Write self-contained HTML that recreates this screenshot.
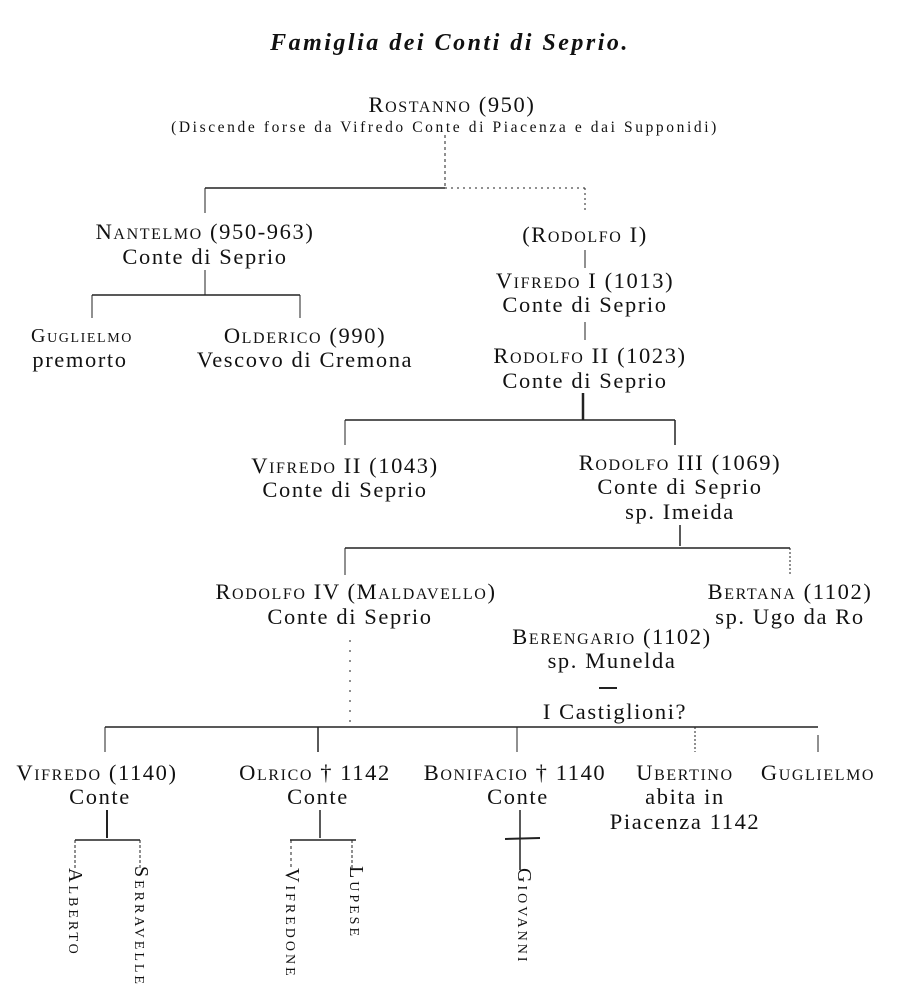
<!DOCTYPE html>
<html><head><meta charset="utf-8"><style>
body{margin:0;background:#fff;}
#c{position:relative;width:900px;height:1001px;overflow:hidden;font-family:"Liberation Serif",serif;color:#111;}
.t{position:absolute;white-space:nowrap;transform:translateX(-50%);font-size:22.5px;line-height:22px;letter-spacing:1.6px;}
.sc{font-variant:small-caps;}
.v{position:absolute;writing-mode:vertical-rl;font-variant:small-caps;font-size:20px;letter-spacing:3px;}
svg{position:absolute;left:0;top:0;}
</style></head><body><div id="c">
<svg width="900" height="1001" stroke="#222" stroke-width="1.5" fill="none">
<line x1="445" y1="135" x2="445" y2="186" stroke-dasharray="3,3" stroke-width="1"/>
<line x1="205" y1="188" x2="445" y2="188"/>
<line x1="445" y1="188" x2="585" y2="188" stroke-dasharray="2,4" stroke-width="1"/>
<line x1="205" y1="188" x2="205" y2="213" stroke-width="1"/>
<line x1="585" y1="188" x2="585" y2="213" stroke-dasharray="2,3" stroke-width="1"/>
<line x1="205" y1="270" x2="205" y2="295" stroke-width="1"/>
<line x1="92" y1="295" x2="300" y2="295"/>
<line x1="92" y1="295" x2="92" y2="318" stroke-width="1"/>
<line x1="300" y1="295" x2="300" y2="318" stroke-width="1"/>
<line x1="585" y1="250" x2="585" y2="268" stroke-width="1"/>
<line x1="585" y1="322" x2="585" y2="340" stroke-width="1"/>
<line x1="583" y1="393" x2="583" y2="420" stroke-width="2.5"/>
<line x1="345" y1="420" x2="675" y2="420"/>
<line x1="345" y1="420" x2="345" y2="445" stroke-width="1"/>
<line x1="675" y1="420" x2="675" y2="445" stroke-width="1.5"/>
<line x1="680" y1="525" x2="680" y2="546" stroke-width="1.5"/>
<line x1="345" y1="548" x2="790" y2="548"/>
<line x1="345" y1="548" x2="345" y2="575" stroke-width="1"/>
<line x1="790" y1="548" x2="790" y2="575" stroke-dasharray="2,2" stroke-width="1"/>
<line x1="599" y1="688" x2="617" y2="688" stroke-width="2"/>
<line x1="350" y1="640" x2="350" y2="724" stroke-dasharray="2,8" stroke-width="1"/>
<line x1="105" y1="727" x2="818" y2="727"/>
<line x1="105" y1="727" x2="105" y2="752" stroke-width="1"/>
<line x1="318" y1="727" x2="318" y2="752" stroke-width="1.5"/>
<line x1="517" y1="727" x2="517" y2="752" stroke-width="1"/>
<line x1="695" y1="727" x2="695" y2="752" stroke-dasharray="2,2" stroke-width="1"/>
<line x1="818" y1="735" x2="818" y2="752" stroke-width="1"/>
<line x1="107" y1="810" x2="107" y2="838" stroke-width="2"/>
<line x1="75" y1="840" x2="140" y2="840"/>
<line x1="75" y1="840" x2="75" y2="870" stroke-dasharray="3,2" stroke-width="1"/>
<line x1="140" y1="840" x2="140" y2="870" stroke-dasharray="3,2" stroke-width="1"/>
<line x1="320" y1="810" x2="320" y2="838" stroke-width="1.5"/>
<line x1="290" y1="840" x2="356" y2="840"/>
<line x1="291" y1="840" x2="291" y2="870" stroke-dasharray="3,3" stroke-width="1"/>
<line x1="352" y1="840" x2="352" y2="870" stroke-dasharray="3,2" stroke-width="1"/>
<line x1="520" y1="810" x2="520" y2="870" stroke-width="1.5"/>
<line x1="505" y1="839" x2="540" y2="838" stroke-width="2"/>
</svg>
<div class="t" style="left:450px;top:32px;font-weight:bold;font-style:italic;font-size:24px;letter-spacing:2.5px;">Famiglia dei Conti di Seprio.</div>
<div class="t sc" style="left:452px;top:94px;">Rostanno (950)</div>
<div class="t" style="left:445px;top:117px;font-size:15.5px;letter-spacing:2.6px;">(Discende forse da Vifredo Conte di Piacenza e dai Supponidi)</div>
<div class="t sc" style="left:205px;top:221px;">Nantelmo (950-963)</div>
<div class="t" style="left:205px;top:246px;">Conte di Seprio</div>
<div class="t sc" style="left:82px;top:325px;font-size:20px;">Guglielmo</div>
<div class="t" style="left:80px;top:349px;">premorto</div>
<div class="t sc" style="left:305px;top:325px;">Olderico (990)</div>
<div class="t" style="left:305px;top:349px;">Vescovo di Cremona</div>
<div class="t sc" style="left:585px;top:224px;">(Rodolfo I)</div>
<div class="t sc" style="left:585px;top:270px;">Vifredo I (1013)</div>
<div class="t" style="left:585px;top:294px;">Conte di Seprio</div>
<div class="t sc" style="left:590px;top:345px;">Rodolfo II (1023)</div>
<div class="t" style="left:585px;top:370px;">Conte di Seprio</div>
<div class="t sc" style="left:345px;top:455px;">Vifredo II (1043)</div>
<div class="t" style="left:345px;top:479px;">Conte di Seprio</div>
<div class="t sc" style="left:680px;top:452px;">Rodolfo III (1069)</div>
<div class="t" style="left:680px;top:476px;">Conte di Seprio</div>
<div class="t" style="left:680px;top:501px;">sp. Imeida</div>
<div class="t sc" style="left:356px;top:581px;">Rodolfo IV (Maldavello)</div>
<div class="t" style="left:350px;top:606px;">Conte di Seprio</div>
<div class="t sc" style="left:790px;top:581px;">Bertana (1102)</div>
<div class="t" style="left:790px;top:606px;">sp. Ugo da Ro</div>
<div class="t sc" style="left:612px;top:626px;">Berengario (1102)</div>
<div class="t" style="left:612px;top:650px;">sp. Munelda</div>
<div class="t" style="left:615px;top:701px;">I Castiglioni?</div>
<div class="t sc" style="left:97px;top:762px;">Vifredo (1140)</div>
<div class="t" style="left:100px;top:786px;">Conte</div>
<div class="t sc" style="left:315px;top:762px;">Olrico † 1142</div>
<div class="t" style="left:318px;top:786px;">Conte</div>
<div class="t sc" style="left:515px;top:762px;">Bonifacio † 1140</div>
<div class="t" style="left:518px;top:786px;">Conte</div>
<div class="t sc" style="left:685px;top:762px;">Ubertino</div>
<div class="t" style="left:685px;top:786px;">abita in</div>
<div class="t" style="left:685px;top:811px;">Piacenza 1142</div>
<div class="t sc" style="left:818px;top:762px;">Guglielmo</div>
<div class="v" style="left:63px;top:868px;">Alberto</div>
<div class="v" style="left:129px;top:866px;">Serravelle</div>
<div class="v" style="left:280px;top:868px;">Vifredone</div>
<div class="v" style="left:344px;top:866px;">Lupese</div>
<div class="v" style="left:512px;top:868px;">Giovanni</div>
</div></body></html>
